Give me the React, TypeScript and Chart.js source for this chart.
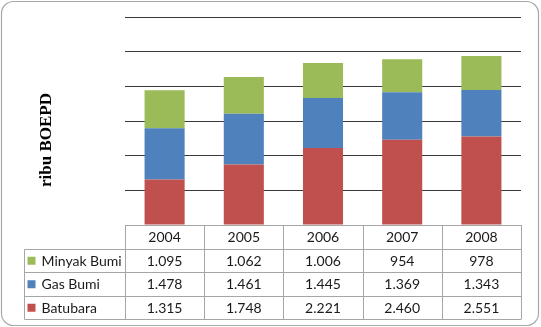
import React, { useEffect, useRef } from "react";
import { Chart, registerables } from "chart.js";

Chart.register(...registerables);

const years = ["2004", "2005", "2006", "2007", "2008"];
const minyakBumi = [1095, 1062, 1006, 954, 978];
const gasBumi = [1478, 1461, 1445, 1369, 1343];
const batubara = [1315, 1748, 2221, 2460, 2551];

const seriesNames = ["Minyak Bumi", "Gas Bumi", "Batubara"];
const seriesColors = ["#9BBB59", "#4F81BD", "#C0504D"];
const axisTitle = "ribu BOEPD";

const W = 541;
const H = 327;

const fmt = (v: number) => v.toString().replace(/\B(?=(\d{3})+(?!\d))/g, ".");

const tablePlugin = {
  id: "dataTable",
  beforeDraw(chart: any) {
    const ctx = chart.ctx;
    ctx.save();
    ctx.fillStyle = "#ffffff";
    ctx.fillRect(0, 0, W, H);
    // rounded outer frame
    ctx.strokeStyle = "#a8a8a8";
    ctx.lineWidth = 1.2;
    ctx.beginPath();
    ctx.roundRect(1.5, 1.5, W - 4, H - 3, 12);
    ctx.stroke();
    ctx.restore();
  },
  afterDraw(chart: any) {
    const ctx = chart.ctx;
    const area = chart.chartArea;
    const colW = (area.right - area.left) / years.length;
    const top = area.bottom;
    const rowH = 23.5;
    const labelLeft = 24.5;
    const rows = [minyakBumi, gasBumi, batubara];

    ctx.save();
    ctx.strokeStyle = "#a6a6a6";
    ctx.lineWidth = 1;
    ctx.beginPath();
    // header row
    ctx.moveTo(area.left, top + 0.5);
    ctx.lineTo(area.right, top + 0.5);
    for (let r = 1; r <= 4; r++) {
      const y = Math.round(top + r * rowH) + 0.5;
      ctx.moveTo(labelLeft, y);
      ctx.lineTo(area.right, y);
    }
    const bottom = Math.round(top + 4 * rowH) + 0.5;
    for (let c = 0; c <= years.length; c++) {
      const x = Math.round(area.left + c * colW) + 0.5;
      ctx.moveTo(x, top);
      ctx.lineTo(x, bottom);
    }
    ctx.moveTo(labelLeft, Math.round(top + rowH) + 0.5);
    ctx.lineTo(labelLeft, bottom);
    ctx.stroke();

    ctx.fillStyle = "#1a1a1a";
    ctx.font = "14px Lato";
    ctx.textBaseline = "middle";
    ctx.textAlign = "center";
    years.forEach((y, i) => {
      ctx.fillText(y, area.left + (i + 0.5) * colW, top + rowH / 2 + 1);
    });
    rows.forEach((vals, r) => {
      const cy = top + (r + 1.5) * rowH + 1;
      vals.forEach((v, i) => {
        ctx.fillStyle = "#1a1a1a";
        ctx.textAlign = "center";
        ctx.fillText(fmt(v), area.left + (i + 0.5) * colW, cy);
      });
      ctx.fillStyle = seriesColors[r];
      ctx.fillRect(labelLeft + 3, cy - 4.5, 8, 8);
      ctx.fillStyle = "#1a1a1a";
      ctx.textAlign = "left";
      ctx.fillText(seriesNames[r], labelLeft + 17, cy);
    });

    // rotated value-axis title
    ctx.translate(47, 140);
    ctx.rotate(-Math.PI / 2);
    ctx.font = "bold 17px 'Liberation Serif'";
    ctx.textAlign = "center";
    ctx.fillStyle = "#000000";
    ctx.fillText(axisTitle, 0, 0);
    ctx.restore();
  },
};

export default function App() {
  const ref = useRef<HTMLCanvasElement | null>(null);

  useEffect(() => {
    document.body.style.margin = "0";
    if (!ref.current) return;
    const chart = new Chart(ref.current, {
      type: "bar",
      data: {
        labels: years,
        datasets: [
          { label: seriesNames[2], data: batubara, backgroundColor: seriesColors[2] },
          { label: seriesNames[1], data: gasBumi, backgroundColor: seriesColors[1] },
          { label: seriesNames[0], data: minyakBumi, backgroundColor: seriesColors[0] },
        ],
      },
      options: {
        responsive: false,
        animation: false,
        devicePixelRatio: 1,
        layout: { padding: { left: 125, right: 20, top: 17, bottom: 102 } },
        datasets: { bar: { barPercentage: 0.506, categoryPercentage: 1 } },
        plugins: { legend: { display: false }, tooltip: { enabled: false }, title: { display: false } },
        scales: {
          x: { stacked: true, display: false },
          y: {
            stacked: true,
            min: 0,
            max: 6000,
            ticks: { display: false, stepSize: 1000 },
            border: { display: false },
            grid: {
              drawTicks: false,
              color: (c: any) => (c.tick && c.tick.value === 0 ? "rgba(0,0,0,0)" : "#3a3a3a"),
              lineWidth: 1,
            },
          },
        },
      },
      plugins: [tablePlugin],
    });
    return () => chart.destroy();
  }, []);

  return <canvas ref={ref} width={W} height={H} style={{ display: "block" }} />;
}
